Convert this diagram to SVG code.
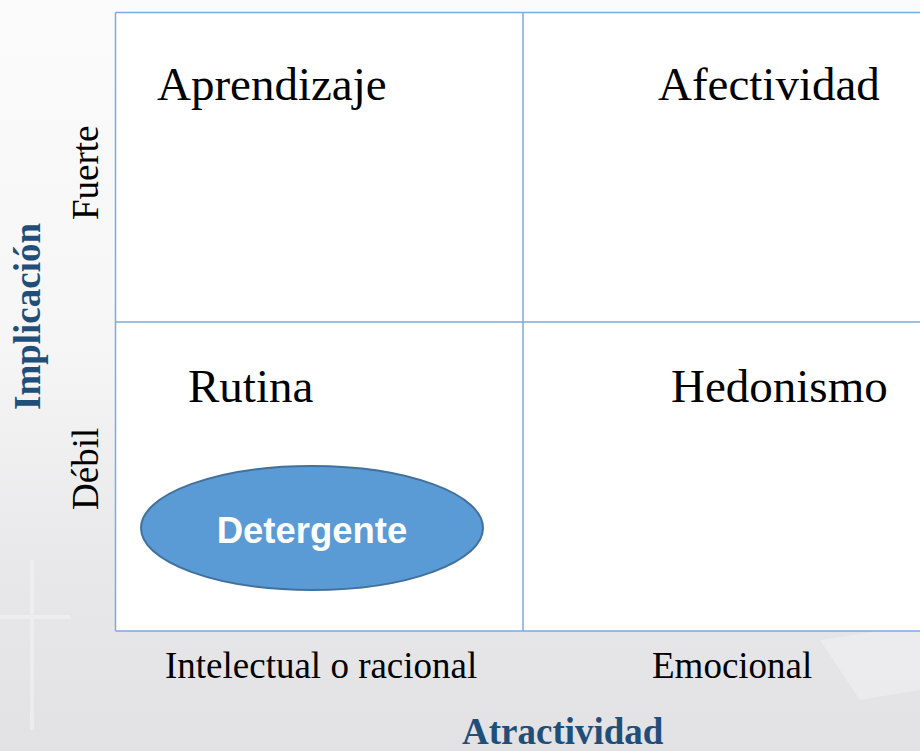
<svg xmlns="http://www.w3.org/2000/svg" width="920" height="751" viewBox="0 0 920 751">
  <defs>
    <linearGradient id="bg" x1="0" y1="0" x2="0" y2="1">
      <stop offset="0" stop-color="#fbfbfb"/>
      <stop offset="0.45" stop-color="#f6f6f6"/>
      <stop offset="0.75" stop-color="#e8e8ea"/>
      <stop offset="1" stop-color="#e2e2e5"/>
    </linearGradient>
    <style>
      .grid { stroke: #7aaadf; stroke-width: 1.5; fill: none; }
      .cell { fill: #ffffff; }
      .quad { font-family: "Liberation Serif", "Times New Roman", serif; font-size: 47px; fill: #000000; }
      .axis { font-family: "Liberation Serif", "Times New Roman", serif; font-size: 37px; fill: #000000; }
      .title { font-family: "Liberation Serif", "Times New Roman", serif; font-size: 37px; font-weight: bold; fill: #1f4e79; }
      .node-shape { fill: #5b9bd5; stroke: #41719c; stroke-width: 2; }
      .node-label { font-family: "Liberation Sans", Arial, sans-serif; font-size: 36.5px; font-weight: bold; fill: #ffffff; }
    </style>
  </defs>

  <!-- background watermark approximation -->
  <rect x="0" y="0" width="920" height="751" fill="url(#bg)"/>
  <g opacity="0.45">
    <rect x="30" y="560" width="4" height="170" fill="#f7f7f9"/>
    <rect x="0" y="615" width="70" height="4" fill="#f7f7f9"/>
    <path d="M820 640 L920 625 L920 690 L860 700 Z" fill="#f4f4f6"/>
  </g>

  <!-- matrix cells -->
  <g id="matrix">
    <rect class="cell" x="115.5" y="12.5" width="805" height="618.5"/>
    <line class="grid" x1="115.5" y1="12.5" x2="920" y2="12.5"/>
    <line class="grid" x1="115.5" y1="322" x2="920" y2="322"/>
    <line class="grid" x1="115.5" y1="631" x2="920" y2="631"/>
    <line class="grid" x1="115.5" y1="12.5" x2="115.5" y2="631"/>
    <line class="grid" x1="523" y1="12.5" x2="523" y2="631"/>
  </g>

  <!-- quadrant labels -->
  <g id="q-aprendizaje"><text class="quad" x="157" y="100">Aprendizaje</text></g>
  <g id="q-afectividad"><text class="quad" x="658" y="100">Afectividad</text></g>
  <g id="q-rutina"><text class="quad" x="188" y="402">Rutina</text></g>
  <g id="q-hedonismo"><text class="quad" x="671" y="402">Hedonismo</text></g>

  <!-- axis labels -->
  <g id="axis-y">
    <text class="title" transform="translate(40,410) rotate(-90)">Implicación</text>
    <text class="axis" transform="translate(98,220) rotate(-90)">Fuerte</text>
    <text class="axis" transform="translate(98,510) rotate(-90)">Débil</text>
  </g>
  <g id="axis-x">
    <text class="axis" x="165" y="678">Intelectual o racional</text>
    <text class="axis" x="652" y="678">Emocional</text>
    <text class="title" x="462" y="744">Atractividad</text>
  </g>

  <!-- node -->
  <g id="node-detergente">
    <ellipse class="node-shape" cx="312" cy="528" rx="171" ry="62"/>
    <text class="node-label" x="312" y="543" text-anchor="middle">Detergente</text>
  </g>

  <g id="connectors"></g>
</svg>
